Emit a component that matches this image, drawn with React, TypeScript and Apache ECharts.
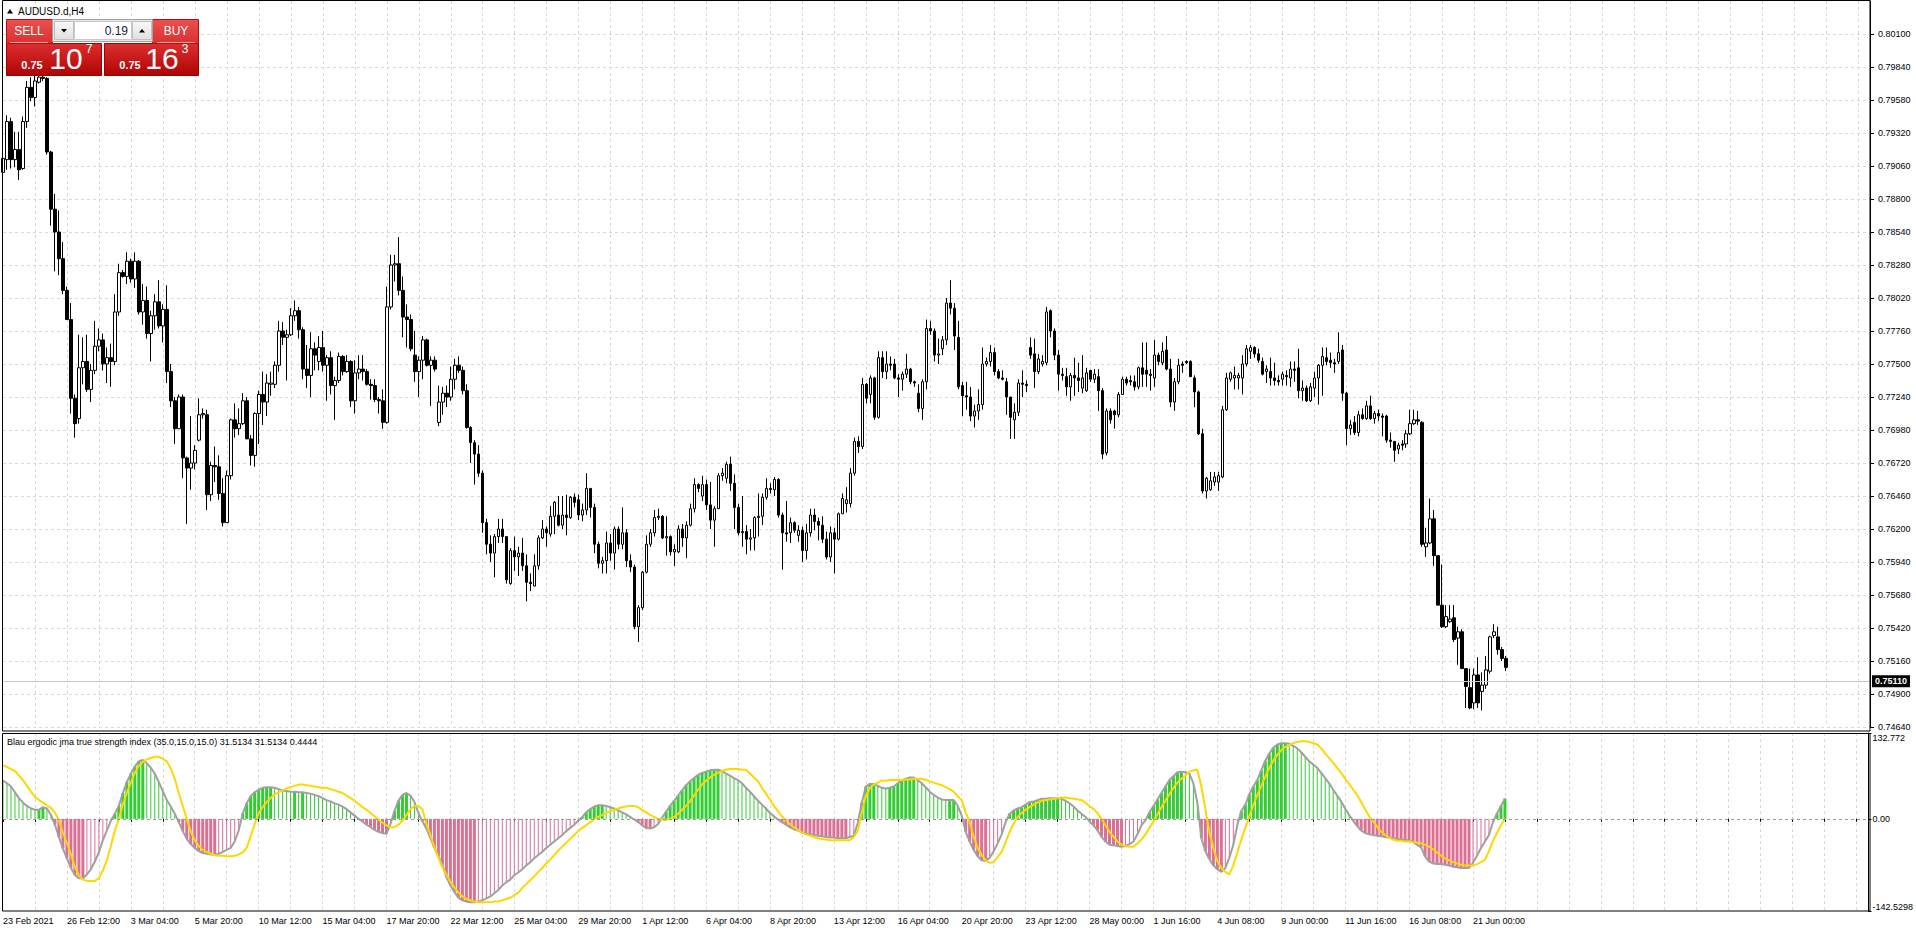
import React, { useEffect, useRef } from 'react';
import * as echarts from 'echarts';

// ---------- data ----------
const symbolTitle = 'AUDUSD.d,H4';
const indicatorName = 'Blau ergodic jma true strength index (35.0,15.0,15.0)';

const timeLabels = [
  '23 Feb 2021', '26 Feb 12:00', '3 Mar 04:00', '5 Mar 20:00', '10 Mar 12:00', '15 Mar 04:00',
  '17 Mar 20:00', '22 Mar 12:00', '25 Mar 04:00', '29 Mar 20:00', '1 Apr 12:00', '6 Apr 04:00',
  '8 Apr 20:00', '13 Apr 12:00', '16 Apr 04:00', '20 Apr 20:00', '23 Apr 12:00', '28 May 00:00',
  '1 Jun 16:00', '4 Jun 08:00', '9 Jun 00:00', '11 Jun 16:00', '16 Jun 08:00', '21 Jun 00:00',
];

const priceTicks = [
  0.7464, 0.7490, 0.7516, 0.7542, 0.7568, 0.7594, 0.7620, 0.7646, 0.7672, 0.7698, 0.7724,
  0.7750, 0.7776, 0.7802, 0.7828, 0.7854, 0.7880, 0.7906, 0.7932, 0.7958, 0.7984, 0.8010,
];
const priceStep = 0.0026;

const indicatorMax = 132.772;
const indicatorMin = -142.5298;
const indicatorTickValues = [132.772, 0, -142.5298];
const indicatorTickLabels = ['132.772', '0.00', '-142.5298'];

// [open, high, low, close]
const candles = [
  [0.7901,0.7918,0.7899,0.7912],[0.7911,0.7946,0.7903,0.7941],[0.7941,0.7944,0.7904,0.7911],[0.7911,0.7933,0.7905,0.7919],[0.7919,0.7933,0.7895,0.7903],
  [0.7904,0.7945,0.7903,0.7941],[0.7941,0.7973,0.7936,0.7968],[0.7968,0.7976,0.7957,0.7960],[0.7960,0.7977,0.7953,0.7973],[0.7972,0.7979,0.7971,0.7976],
  [0.7976,0.7977,0.7973,0.7975],[0.7975,0.7976,0.7915,0.7917],[0.7917,0.7918,0.7859,0.7872],[0.7872,0.7884,0.7823,0.7854],[0.7854,0.7871,0.7820,0.7833],
  [0.7833,0.7846,0.7805,0.7808],[0.7808,0.7811,0.7785,0.7785],[0.7785,0.7798,0.7711,0.7723],[0.7723,0.7726,0.7692,0.7703],[0.7707,0.7773,0.7703,0.7747],
  [0.7747,0.7771,0.7734,0.7752],[0.7752,0.7773,0.7728,0.7730],[0.7730,0.7750,0.7720,0.7745],[0.7745,0.7784,0.7742,0.7764],[0.7764,0.7778,0.7760,0.7769],
  [0.7769,0.7774,0.7745,0.7750],[0.7750,0.7763,0.7735,0.7755],[0.7755,0.7766,0.7732,0.7752],[0.7752,0.7805,0.7749,0.7791],[0.7791,0.7829,0.7788,0.7822],
  [0.7822,0.7824,0.7818,0.7819],[0.7819,0.7838,0.7813,0.7831],[0.7831,0.7833,0.7814,0.7817],[0.7817,0.7838,0.7810,0.7831],[0.7831,0.7832,0.7789,0.7791],
  [0.7791,0.7813,0.7781,0.7800],[0.7800,0.7811,0.7770,0.7774],[0.7774,0.7792,0.7752,0.7788],[0.7788,0.7805,0.7777,0.7799],[0.7799,0.7816,0.7778,0.7780],
  [0.7780,0.7797,0.7767,0.7793],[0.7793,0.7812,0.7735,0.7744],[0.7744,0.7750,0.7716,0.7721],[0.7721,0.7724,0.7687,0.7699],[0.7699,0.7726,0.7699,0.7724],
  [0.7724,0.7726,0.7660,0.7676],[0.7676,0.7677,0.7624,0.7668],[0.7668,0.7709,0.7651,0.7672],[0.7672,0.7686,0.7667,0.7682],[0.7690,0.7723,0.7689,0.7710],
  [0.7710,0.7715,0.7707,0.7711],[0.7710,0.7714,0.7635,0.7647],[0.7647,0.7673,0.7642,0.7670],[0.7670,0.7685,0.7657,0.7669],[0.7669,0.7678,0.7643,0.7648],
  [0.7648,0.7660,0.7622,0.7625],[0.7625,0.7666,0.7625,0.7662],[0.7662,0.7707,0.7659,0.7706],[0.7706,0.7719,0.7692,0.7699],[0.7699,0.7715,0.7694,0.7703],
  [0.7703,0.7727,0.7702,0.7721],[0.7721,0.7724,0.7691,0.7691],[0.7691,0.7694,0.7670,0.7678],[0.7678,0.7712,0.7669,0.7711],[0.7711,0.7729,0.7687,0.7726],
  [0.7726,0.7744,0.7702,0.7720],[0.7720,0.7742,0.7709,0.7735],[0.7734,0.7744,0.7725,0.7735],[0.7734,0.7752,0.7731,0.7749],[0.7749,0.7784,0.7744,0.7776],
  [0.7776,0.7783,0.7765,0.7771],[0.7771,0.7777,0.7737,0.7773],[0.7773,0.7794,0.7772,0.7788],[0.7788,0.7800,0.7784,0.7792],[0.7792,0.7795,0.7770,0.7777],
  [0.7777,0.7779,0.7738,0.7746],[0.7746,0.7765,0.7731,0.7741],[0.7741,0.7775,0.7724,0.7762],[0.7762,0.7767,0.7745,0.7757],[0.7752,0.7772,0.7745,0.7763],
  [0.7763,0.7776,0.7744,0.7749],[0.7749,0.7757,0.7721,0.7755],[0.7755,0.7760,0.7726,0.7733],[0.7733,0.7740,0.7706,0.7737],[0.7737,0.7759,0.7735,0.7756],
  [0.7756,0.7757,0.7741,0.7744],[0.7744,0.7757,0.7743,0.7752],[0.7752,0.7753,0.7716,0.7721],[0.7721,0.7753,0.7711,0.7743],[0.7743,0.7757,0.7738,0.7746],
  [0.7746,0.7757,0.7737,0.7744],[0.7744,0.7746,0.7733,0.7734],[0.7734,0.7738,0.7722,0.7733],[0.7733,0.7738,0.7720,0.7722],[0.7722,0.7724,0.7711,0.7721],
  [0.7721,0.7730,0.7699,0.7704],[0.7704,0.7811,0.7703,0.7795],[0.7795,0.7836,0.7793,0.7828],[0.7828,0.7836,0.7815,0.7829],[0.7829,0.7850,0.7804,0.7808],
  [0.7808,0.7819,0.7771,0.7787],[0.7787,0.7797,0.7763,0.7785],[0.7785,0.7789,0.7760,0.7762],[0.7757,0.7776,0.7736,0.7744],[0.7744,0.7756,0.7724,0.7753],
  [0.7753,0.7772,0.7738,0.7769],[0.7769,0.7770,0.7748,0.7749],[0.7749,0.7756,0.7717,0.7753],[0.7753,0.7756,0.7744,0.7746],[0.7704,0.7733,0.7701,0.7720],
  [0.7720,0.7732,0.7710,0.7727],[0.7727,0.7733,0.7716,0.7724],[0.7724,0.7748,0.7721,0.7738],[0.7738,0.7754,0.7730,0.7749],[0.7749,0.7756,0.7743,0.7745],
  [0.7745,0.7748,0.7726,0.7729],[0.7729,0.7734,0.7699,0.7700],[0.7700,0.7701,0.7672,0.7688],[0.7688,0.7690,0.7655,0.7679],[0.7679,0.7686,0.7661,0.7664],
  [0.7664,0.7666,0.7617,0.7625],[0.7625,0.7628,0.7600,0.7608],[0.7608,0.7615,0.7594,0.7601],[0.7601,0.7616,0.7582,0.7614],[0.7614,0.7628,0.7609,0.7620],
  [0.7620,0.7628,0.7609,0.7614],[0.7614,0.7614,0.7577,0.7580],[0.7577,0.7605,0.7576,0.7603],[0.7603,0.7614,0.7587,0.7598],[0.7598,0.7606,0.7583,0.7601],
  [0.7601,0.7613,0.7587,0.7591],[0.7591,0.7600,0.7563,0.7578],[0.7578,0.7585,0.7571,0.7577],[0.7575,0.7600,0.7575,0.7591],[0.7591,0.7615,0.7588,0.7613],
  [0.7613,0.7627,0.7612,0.7620],[0.7620,0.7622,0.7606,0.7617],[0.7616,0.7638,0.7614,0.7630],[0.7630,0.7642,0.7616,0.7641],[0.7631,0.7646,0.7622,0.7623],
  [0.7623,0.7646,0.7620,0.7631],[0.7631,0.7647,0.7615,0.7629],[0.7629,0.7646,0.7628,0.7645],[0.7645,0.7648,0.7637,0.7641],[0.7643,0.7647,0.7627,0.7631],
  [0.7631,0.7640,0.7626,0.7635],[0.7635,0.7664,0.7631,0.7652],[0.7652,0.7652,0.7629,0.7637],[0.7637,0.7640,0.7601,0.7608],[0.7608,0.7610,0.7589,0.7593],
  [0.7593,0.7598,0.7585,0.7595],[0.7595,0.7618,0.7585,0.7609],[0.7609,0.7616,0.7595,0.7601],[0.7601,0.7622,0.7588,0.7620],[0.7620,0.7622,0.7604,0.7608],
  [0.7608,0.7637,0.7604,0.7617],[0.7617,0.7620,0.7590,0.7595],[0.7595,0.7600,0.7586,0.7590],[0.7590,0.7592,0.7541,0.7543],[0.7543,0.7560,0.7531,0.7558],
  [0.7558,0.7587,0.7556,0.7586],[0.7586,0.7615,0.7585,0.7608],[0.7608,0.7620,0.7606,0.7617],[0.7617,0.7635,0.7614,0.7629],[0.7629,0.7636,0.7627,0.7630],
  [0.7630,0.7631,0.7612,0.7613],[0.7613,0.7630,0.7599,0.7614],[0.7614,0.7615,0.7599,0.7602],[0.7602,0.7608,0.7591,0.7604],[0.7602,0.7623,0.7601,0.7620],
  [0.7620,0.7624,0.7606,0.7613],[0.7613,0.7626,0.7597,0.7623],[0.7623,0.7640,0.7622,0.7636],[0.7636,0.7660,0.7633,0.7655],[0.7655,0.7656,0.7649,0.7652],
  [0.7646,0.7662,0.7642,0.7655],[0.7655,0.7659,0.7635,0.7639],[0.7639,0.7657,0.7620,0.7627],[0.7627,0.7638,0.7606,0.7636],[0.7636,0.7664,0.7636,0.7662],
  [0.7662,0.7668,0.7658,0.7664],[0.7660,0.7673,0.7656,0.7671],[0.7671,0.7677,0.7650,0.7656],[0.7656,0.7663,0.7620,0.7637],[0.7637,0.7640,0.7615,0.7617],
  [0.7617,0.7646,0.7606,0.7618],[0.7618,0.7623,0.7600,0.7612],[0.7612,0.7620,0.7603,0.7613],[0.7613,0.7630,0.7603,0.7629],[0.7629,0.7648,0.7614,0.7630],
  [0.7630,0.7648,0.7623,0.7645],[0.7645,0.7660,0.7643,0.7652],[0.7652,0.7656,0.7648,0.7651],[0.7651,0.7661,0.7646,0.7659],[0.7659,0.7660,0.7629,0.7631],
  [0.7631,0.7633,0.7588,0.7617],[0.7617,0.7642,0.7610,0.7616],[0.7617,0.7629,0.7609,0.7625],[0.7625,0.7626,0.7617,0.7619],[0.7615,0.7623,0.7610,0.7619],
  [0.7619,0.7622,0.7594,0.7603],[0.7603,0.7624,0.7596,0.7617],[0.7617,0.7636,0.7614,0.7631],[0.7631,0.7636,0.7619,0.7626],[0.7626,0.7629,0.7611,0.7623],
  [0.7623,0.7630,0.7609,0.7612],[0.7612,0.7618,0.7596,0.7598],[0.7598,0.7622,0.7594,0.7617],[0.7617,0.7621,0.7585,0.7612],[0.7612,0.7633,0.7611,0.7632],
  [0.7632,0.7648,0.7632,0.7644],[0.7640,0.7653,0.7633,0.7643],[0.7640,0.7668,0.7637,0.7664],[0.7664,0.7692,0.7662,0.7689],[0.7689,0.7693,0.7680,0.7685],
  [0.7685,0.7739,0.7683,0.7734],[0.7734,0.7735,0.7719,0.7723],[0.7726,0.7741,0.7719,0.7739],[0.7739,0.7740,0.7706,0.7708],[0.7708,0.7760,0.7707,0.7755],
  [0.7755,0.7760,0.7739,0.7744],[0.7744,0.7760,0.7738,0.7750],[0.7750,0.7756,0.7745,0.7749],[0.7750,0.7754,0.7738,0.7739],[0.7739,0.7742,0.7724,0.7738],
  [0.7738,0.7744,0.7729,0.7742],[0.7742,0.7758,0.7739,0.7746],[0.7746,0.7747,0.7734,0.7736],[0.7736,0.7737,0.7732,0.7735],[0.7727,0.7734,0.7712,0.7715],
  [0.7715,0.7738,0.7706,0.7736],[0.7736,0.7785,0.7730,0.7778],[0.7778,0.7784,0.7773,0.7776],[0.7776,0.7778,0.7752,0.7757],[0.7757,0.7770,0.7750,0.7758],
  [0.7762,0.7772,0.7757,0.7769],[0.7769,0.7802,0.7765,0.7798],[0.7798,0.7816,0.7789,0.7794],[0.7794,0.7798,0.7761,0.7772],[0.7771,0.7784,0.7730,0.7732],
  [0.7733,0.7736,0.7709,0.7725],[0.7725,0.7736,0.7714,0.7724],[0.7724,0.7732,0.7705,0.7709],[0.7709,0.7718,0.7700,0.7713],[0.7713,0.7730,0.7706,0.7718],
  [0.7718,0.7763,0.7714,0.7750],[0.7750,0.7755,0.7748,0.7752],[0.7752,0.7765,0.7748,0.7759],[0.7759,0.7763,0.7741,0.7744],[0.7744,0.7746,0.7738,0.7739],
  [0.7739,0.7745,0.7737,0.7738],[0.7736,0.7739,0.7710,0.7724],[0.7724,0.7724,0.7691,0.7708],[0.7706,0.7719,0.7691,0.7712],[0.7712,0.7738,0.7709,0.7735],
  [0.7735,0.7745,0.7724,0.7734],[0.7734,0.7737,0.7728,0.7733],[0.7763,0.7771,0.7754,0.7757],[0.7758,0.7770,0.7731,0.7744],[0.7744,0.7758,0.7742,0.7754],
  [0.7750,0.7757,0.7748,0.7752],[0.7751,0.7795,0.7749,0.7791],[0.7792,0.7793,0.7771,0.7776],[0.7776,0.7778,0.7753,0.7757],[0.7757,0.7761,0.7729,0.7742],
  [0.7742,0.7747,0.7737,0.7741],[0.7740,0.7747,0.7725,0.7732],[0.7732,0.7743,0.7721,0.7741],[0.7741,0.7755,0.7725,0.7739],[0.7739,0.7751,0.7728,0.7737],
  [0.7731,0.7757,0.7727,0.7739],[0.7729,0.7747,0.7728,0.7743],[0.7745,0.7745,0.7736,0.7738],[0.7738,0.7746,0.7735,0.7742],[0.7740,0.7746,0.7713,0.7729],
  [0.7729,0.7731,0.7675,0.7679],[0.7680,0.7715,0.7678,0.7713],[0.7713,0.7715,0.7703,0.7706],[0.7713,0.7714,0.7699,0.7710],[0.7710,0.7728,0.7708,0.7726],
  [0.7726,0.7740,0.7726,0.7738],[0.7738,0.7740,0.7733,0.7735],[0.7737,0.7741,0.7733,0.7736],[0.7736,0.7741,0.7729,0.7732],[0.7732,0.7748,0.7730,0.7747],
  [0.7747,0.7767,0.7732,0.7742],[0.7745,0.7767,0.7732,0.7742],[0.7742,0.7746,0.7729,0.7741],[0.7739,0.7769,0.7732,0.7757],[0.7757,0.7759,0.7749,0.7752],
  [0.7751,0.7767,0.7749,0.7760],[0.7761,0.7772,0.7745,0.7746],[0.7746,0.7754,0.7716,0.7720],[0.7720,0.7739,0.7713,0.7736],[0.7736,0.7754,0.7734,0.7749],
  [0.7750,0.7752,0.7743,0.7749],[0.7752,0.7753,0.7750,0.7751],[0.7752,0.7753,0.7740,0.7740],[0.7739,0.7741,0.7716,0.7728],[0.7728,0.7729,0.7694,0.7695],
  [0.7695,0.7699,0.7648,0.7650],[0.7650,0.7661,0.7644,0.7660],[0.7651,0.7665,0.7650,0.7658],[0.7657,0.7665,0.7654,0.7661],[0.7657,0.7665,0.7650,0.7662],
  [0.7661,0.7717,0.7660,0.7714],[0.7714,0.7743,0.7713,0.7739],[0.7738,0.7744,0.7736,0.7743],[0.7739,0.7748,0.7730,0.7741],[0.7739,0.7743,0.7730,0.7741],
  [0.7739,0.7757,0.7726,0.7750],[0.7750,0.7765,0.7748,0.7762],[0.7760,0.7765,0.7754,0.7763],[0.7763,0.7764,0.7755,0.7758],[0.7758,0.7762,0.7751,0.7753],
  [0.7752,0.7755,0.7741,0.7742],[0.7744,0.7749,0.7735,0.7746],[0.7744,0.7755,0.7733,0.7739],[0.7739,0.7751,0.7733,0.7737],[0.7737,0.7741,0.7733,0.7736],
  [0.7738,0.7744,0.7733,0.7742],[0.7741,0.7745,0.7733,0.7740],[0.7739,0.7752,0.7732,0.7746],[0.7746,0.7752,0.7736,0.7745],[0.7747,0.7762,0.7723,0.7729],
  [0.7729,0.7737,0.7721,0.7731],[0.7731,0.7733,0.7720,0.7721],[0.7721,0.7735,0.7720,0.7732],[0.7731,0.7744,0.7724,0.7739],[0.7739,0.7750,0.7718,0.7749],
  [0.7749,0.7763,0.7725,0.7756],[0.7755,0.7763,0.7749,0.7752],[0.7753,0.7759,0.7747,0.7751],[0.7751,0.7754,0.7743,0.7750],[0.7752,0.7775,0.7750,0.7759],
  [0.7761,0.7765,0.7721,0.7727],[0.7727,0.7728,0.7686,0.7699],[0.7699,0.7706,0.7694,0.7702],[0.7704,0.7709,0.7694,0.7696],[0.7696,0.7713,0.7693,0.7710],
  [0.7710,0.7715,0.7706,0.7707],[0.7707,0.7721,0.7706,0.7717],[0.7717,0.7725,0.7706,0.7707],[0.7707,0.7713,0.7703,0.7711],[0.7711,0.7714,0.7705,0.7709],
  [0.7709,0.7711,0.7693,0.7708],[0.7709,0.7710,0.7688,0.7690],[0.7690,0.7696,0.7684,0.7689],[0.7689,0.7689,0.7673,0.7682],[0.7683,0.7688,0.7679,0.7686],
  [0.7687,0.7690,0.7682,0.7686],[0.7687,0.7698,0.7684,0.7695],[0.7695,0.7714,0.7694,0.7703],[0.7703,0.7714,0.7702,0.7706],[0.7706,0.7713,0.7702,0.7705],
  [0.7704,0.7705,0.7606,0.7608],[0.7606,0.7621,0.7598,0.7609],[0.7609,0.7644,0.7608,0.7628],[0.7628,0.7635,0.7591,0.7599],[0.7599,0.7599,0.7560,0.7560],
  [0.7560,0.7592,0.7542,0.7543],[0.7543,0.7560,0.7542,0.7551],[0.7547,0.7560,0.7546,0.7549],[0.7550,0.7560,0.7531,0.7533],[0.7534,0.7543,0.7513,0.7539],
  [0.7539,0.7541,0.7510,0.7510],[0.7510,0.7510,0.7479,0.7496],[0.7495,0.7510,0.7478,0.7479],[0.7483,0.7510,0.7478,0.7505],[0.7505,0.7519,0.7479,0.7483],
  [0.7492,0.7507,0.7477,0.7497],[0.7497,0.7520,0.7494,0.7509],[0.7508,0.7536,0.7506,0.7535],[0.7536,0.7545,0.7534,0.7539],[0.7535,0.7543,0.7521,0.7525],
  [0.7525,0.7527,0.7516,0.7518],[0.7518,0.7520,0.7508,0.7511],
];

// Blau ergodic TSI (gray line / histogram), one value per bar
const tsi = [
  59,55,50,41,32,25,20,16,14,14,
  18,16,6,-9,-28,-46,-61,-76,-87,-92,
  -92,-86,-78,-66,-52,-33,-18,-3,8,20,
  40,57,70,81,89,91,86,79,70,57,
  43,29,19,8,-5,-19,-31,-39,-45,-50,
  -53,-54,-55,-55,-54,-51,-48,-45,-35,-18,
  8,24,35,41,45,48,49,49,48,46,
  44,43,42,42,41,41,40,39,37,35,
  32,29,27,24,22,19,15,10,5,0,
  -4,-9,-13,-17,-20,-22,-23,-8,12,28,
  37,40,36,26,9,-4,-15,-30,-45,-58,
  -71,-90,-103,-113,-122,-126,-128,-129,-129,-128,
  -126,-123,-120,-115,-110,-103,-98,-94,-87,-83,
  -78,-72,-67,-61,-56,-51,-45,-40,-35,-30,
  -25,-19,-14,-9,-3,3,10,15,19,21,
  21,20,18,16,13,10,7,3,-1,-5,
  -10,-14,-15,-13,-8,2,11,20,28,36,
  44,52,58,63,68,71,73,75,76,76,
  74,70,67,63,60,55,48,42,35,28,
  22,16,9,4,-1,-5,-9,-13,-16,-18,
  -21,-23,-24,-25,-26,-27,-28,-29,-29,-30,
  -30,-30,-28,-26,-6,25,50,54,54,51,
  48,47,48,50,55,59,62,64,64,60,
  55,49,42,37,33,30,29,29,29,20,
  5,-20,-35,-48,-58,-64,-65,-60,-50,-38,
  -24,-5,8,13,16,18,22,26,27,29,
  31,31,32,32,32,31,28,24,19,13,
  8,3,-4,-10,-18,-28,-35,-40,-41,-42,
  -43,-42,-39,-35,-24,-10,-2,10,20,30,
  40,50,60,66,72,73,72,70,55,25,
  -30,-50,-62,-72,-78,-82,-76,-60,-40,-10,
  12,22,38,50,60,75,90,101,110,115,
  117,117,116,113,109,103,96,89,84,79,
  71,63,55,45,36,27,16,6,-3,-11,
  -18,-22,-24,-25,-26,-27,-28,-29,-30,-31,
  -32,-33,-33,-36,-40,-44,-58,-66,-69,-70,
  -70,-71,-72,-74,-75,-76,-76,-76,-68,-57,
  -45,-35,-25,-5,8,20,31.5134,
];

// JMA signal line (yellow)
const signal = [
  83,80,77,74,67,60,51,42,34,29,
  25,21,17,10,-2,-22,-37,-55,-74,-88,
  -94,-96,-96,-96,-92,-80,-64,-42,-18,0,
  22,40,56,71,82,88,92,94,96,96,
  93,89,78,62,40,20,0,-20,-33,-42,
  -48,-51,-54,-56,-57,-57,-58,-58,-57,-55,
  -52,-45,-27,-8,9,18,26,32,38,41,
  44,47,49,51,53,53,52,51,50,49,
  48,48,46,44,42,40,36,32,28,23,
  18,14,9,4,-1,-6,-10,-13,-13,-9,
  -3,6,15,20,20,15,-8,-25,-44,-60,
  -75,-86,-97,-106,-114,-120,-124,-126,-128,-129,
  -129,-129,-129,-128,-128,-126,-124,-122,-118,-114,
  -107,-101,-95,-89,-82,-76,-69,-63,-56,-49,
  -43,-37,-31,-25,-19,-14,-10,-5,-1,3,
  6,9,12,14,16,18,19,20,20,18,
  14,10,6,3,0,-1,-2,0,3,8,
  14,20,27,36,45,53,59,64,68,71,
  74,76,77,77,77,76,76,70,64,58,
  48,39,30,20,12,4,-2,-8,-13,-17,
  -21,-24,-26,-28,-30,-31,-32,-33,-33,-33,
  -33,-33,-33,-28,-18,10,35,48,53,56,
  59,59,60,60,60,60,61,61,62,62,
  62,60,58,56,54,52,49,46,42,35,
  29,10,-5,-28,-45,-56,-64,-68,-67,-59,
  -51,-36,-20,-7,3,9,14,18,22,25,
  28,29,30,31,32,33,33,32,31,30,
  29,25,20,15,9,0,-10,-20,-28,-35,
  -40,-42,-43,-43,-38,-32,-24,-14,-4,7,
  18,28,38,48,56,62,67,73,75,76,
  50,15,-20,-45,-65,-76,-82,-86,-72,-52,
  -32,-14,4,21,37,51,65,79,90,99,
  106,111,114,117,119,120,120,119,117,115,
  109,101,94,87,79,71,62,54,45,37,
  26,15,4,-4,-12,-20,-25,-29,-32,-34,
  -34,-35,-35,-36,-37,-38,-40,-43,-47,-52,
  -57,-61,-64,-67,-69,-71,-72,-72,-72,-70,
  -67,-63,-50,-34,-22,-10,0.4444,
];

// one-click trading panel texts
const lotSize = '0.19';
const sellBig = { head: '0.75', big: '10', tail: '7' };
const buyBig = { head: '0.75', big: '16', tail: '3' };

// ---------- styling constants ----------
const SLOTS = 468;
const LABEL_EVERY = 16;
const GRID_EVERY = 8;
const FONT = 'Tahoma, "Liberation Sans", Arial, sans-serif';
const GREEN = '#32CD32';
const PINK = '#DB7093';
const GRID_COLOR = '#d9d9d9';

function buildOption() {
  const cats = Array.from({ length: SLOTS }, (_, i) => String(i));
  const candleData = candles.map(([o, h, l, c]) => [o, c, l, h]);
  const n = Math.min(tsi.length, signal.length);
  const tsiVals = tsi.slice(0, n);
  const sigVals = signal.slice(0, n);
  const thick = tsiVals.map((v, i) => {
    if (i === 0) return '-';
    const prev = tsiVals[i - 1];
    const growing = v >= 0 ? v >= prev : v <= prev;
    return growing ? v : '-';
  });
  const thin = tsiVals.map((v, i) => (thick[i] === '-' ? v : '-'));
  const lastClose = candles[candles.length - 1][3];
  const lastTsi = tsiVals[n - 1];
  const lastSig = sigVals[n - 1];
  const priceMin = priceTicks[0];
  const priceMax = +(priceTicks[priceTicks.length - 1] + priceStep).toFixed(4);

  const splitIv = (idx: number) => idx > 0 && idx % GRID_EVERY === 0;
  const dashed = { color: GRID_COLOR, type: [3, 3] as any, width: 1 };
  const barColor = (p: any) => (p.value >= 0 ? GREEN : PINK);

  const mainLeft = 3;
  const mainWidth = 1867;

  const indYAxis = (k: number, va: string, showLine: boolean) => ({
    type: 'value',
    gridIndex: 1,
    position: 'right',
    min: indicatorMin,
    max: indicatorMax,
    axisLine: { show: showLine, lineStyle: { color: '#000', width: 1 } },
    axisTick: { show: true, length: 3, customValues: [indicatorTickValues[k]], lineStyle: { color: '#000' } },
    axisLabel: {
      show: true,
      customValues: [indicatorTickValues[k]],
      formatter: () => indicatorTickLabels[k],
      verticalAlign: va,
      margin: 4,
      fontSize: 9,
      fontFamily: FONT,
      color: '#000',
    },
    splitLine: { show: false },
  });

  const txt = (x: number, y: number, text: string, size: number, extra: any = {}) => ({
    type: 'text',
    x,
    y,
    silent: true,
    z: 110,
    style: {
      text,
      fill: '#fff',
      fontSize: size,
      fontFamily: FONT,
      align: 'center',
      verticalAlign: 'middle',
      ...extra,
    },
  });
  const grad = (a: string, b: string) =>
    new echarts.graphic.LinearGradient(0, 0, 0, 1, [
      { offset: 0, color: a },
      { offset: 1, color: b },
    ]);
  const rect = (x: number, y: number, w: number, h: number, fill: any, stroke: string) => ({
    type: 'rect',
    silent: true,
    z: 100,
    shape: { x, y, width: w, height: h },
    style: { fill, stroke, lineWidth: 1 },
  });

  return {
    animation: false,
    backgroundColor: '#ffffff',
    textStyle: { fontFamily: FONT },
    grid: [
      { left: mainLeft, width: mainWidth, top: 1, height: 726 },
      { left: mainLeft, width: mainWidth, top: 733, height: 178 },
    ],
    xAxis: [
      {
        type: 'category',
        gridIndex: 0,
        data: cats,
        boundaryGap: false,
        axisLine: { show: false },
        axisTick: { show: false },
        axisLabel: { show: false },
        splitLine: { show: true, interval: splitIv, lineStyle: dashed },
      },
      {
        type: 'category',
        gridIndex: 1,
        data: cats,
        boundaryGap: false,
        axisLine: { show: false },
        axisTick: {
          show: true,
          interval: (idx: number) => idx % GRID_EVERY === 0,
          length: 3,
          lineStyle: { color: '#000' },
        },
        axisLabel: {
          show: true,
          interval: (idx: number) => idx % LABEL_EVERY === 0 && idx / LABEL_EVERY < timeLabels.length,
          formatter: (_v: string, idx: number) => timeLabels[idx / LABEL_EVERY] ?? '',
          align: 'left',
          margin: 5,
          fontSize: 9,
          fontFamily: FONT,
          color: '#000',
        },
        splitLine: { show: true, interval: splitIv, lineStyle: dashed },
      },
      {
        type: 'category',
        gridIndex: 1,
        data: cats,
        boundaryGap: false,
        show: false,
      },
    ],
    yAxis: [
      {
        type: 'value',
        gridIndex: 0,
        position: 'right',
        min: priceMin,
        max: priceMax,
        interval: priceStep,
        axisLine: { show: true, lineStyle: { color: '#000', width: 1 } },
        axisTick: { show: true, length: 4, customValues: priceTicks, lineStyle: { color: '#000' } },
        axisLabel: {
          show: true,
          customValues: priceTicks,
          formatter: (v: number) => v.toFixed(5),
          margin: 8,
          fontSize: 9,
          fontFamily: FONT,
          color: '#000',
        },
        splitLine: { show: true, lineStyle: dashed },
      },
      indYAxis(0, 'top', true),
      indYAxis(1, 'middle', false),
      indYAxis(2, 'bottom', false),
    ],
    series: [
      {
        type: 'candlestick',
        xAxisIndex: 0,
        yAxisIndex: 0,
        data: candleData,
        barWidth: 3,
        silent: true,
        itemStyle: {
          color: '#ffffff',
          color0: '#000000',
          borderColor: '#000000',
          borderColor0: '#000000',
          borderWidth: 1,
        },
        markLine: {
          silent: true,
          symbol: 'none',
          animation: false,
          data: [{ yAxis: lastClose }],
          lineStyle: { color: '#c8c8c8', type: 'solid', width: 1 },
          label: {
            show: true,
            position: 'end',
            distance: 2,
            formatter: lastClose.toFixed(5),
            color: '#fff',
            backgroundColor: '#000',
            padding: [2, 3, 1, 3],
            fontSize: 9,
            fontWeight: 'bold',
            fontFamily: FONT,
          },
        },
      },
      {
        type: 'bar',
        name: 'hist-grow',
        xAxisIndex: 1,
        yAxisIndex: 1,
        data: thick,
        barWidth: 3,
        silent: true,
        itemStyle: { color: barColor },
      },
      {
        type: 'bar',
        name: 'hist-fall',
        xAxisIndex: 2,
        yAxisIndex: 1,
        data: thin,
        barWidth: 1,
        silent: true,
        itemStyle: { color: barColor },
        markLine: {
          silent: true,
          symbol: 'none',
          animation: false,
          data: [{ yAxis: 0 }],
          lineStyle: { color: '#9a9a9a', type: [3, 3], width: 1 },
          label: { show: false },
        },
      },
      {
        type: 'line',
        name: 'tsi',
        xAxisIndex: 1,
        yAxisIndex: 1,
        data: tsiVals,
        symbol: 'none',
        silent: true,
        lineStyle: { color: '#a0a0a0', width: 2 },
        z: 3,
      },
      {
        type: 'line',
        name: 'signal',
        xAxisIndex: 1,
        yAxisIndex: 1,
        data: sigVals,
        symbol: 'none',
        silent: true,
        lineStyle: { color: '#FFD700', width: 2 },
        z: 4,
      },
    ],
    graphic: [
      // panel frames
      {
        type: 'rect', silent: true, z: 50,
        shape: { x: 2.5, y: 0.5, width: 1867.5, height: 730.5 },
        style: { fill: 'none', stroke: '#000', lineWidth: 1 },
      },
      {
        type: 'rect', silent: true, z: 50,
        shape: { x: 2.5, y: 733.5, width: 1867.5, height: 177.5 },
        style: { fill: 'none', stroke: '#000', lineWidth: 1 },
      },
      // symbol title
      {
        type: 'polygon', silent: true, z: 60,
        shape: { points: [[7, 13.5], [13, 13.5], [10, 9]] },
        style: { fill: '#000' },
      },
      {
        type: 'text', silent: true, z: 60, x: 18, y: 11,
        style: { text: symbolTitle, fill: '#000', fontSize: 10, fontFamily: FONT, verticalAlign: 'middle' },
      },
      // indicator title
      {
        type: 'text', silent: true, z: 60, x: 7, y: 742,
        style: {
          text: `${indicatorName} ${lastTsi.toFixed(4)} ${lastTsi.toFixed(4)} ${lastSig.toFixed(4)}`,
          fill: '#000', fontSize: 9, fontFamily: FONT, verticalAlign: 'middle',
        },
      },
      // one click trading panel
      rect(6.5, 43.5, 95, 32, grad('#DC2E2E', '#B00404'), '#9c0000'),
      rect(104.5, 43.5, 94, 32, grad('#DC2E2E', '#B00404'), '#9c0000'),
      rect(6.5, 19.5, 46, 24, grad('#EC5050', '#D93030'), '#b01010'),
      rect(152.5, 19.5, 46, 24, grad('#EC5050', '#D93030'), '#b01010'),
      rect(52.5, 19.5, 100, 22, '#e6e6e6', '#a0a0a0'),
      rect(74.5, 21.5, 57, 18, '#ffffff', '#c8c8c8'),
      rect(54.5, 21.5, 19, 18, grad('#f8f8f8', '#e0e0e0'), '#c0c0c0'),
      rect(132.5, 21.5, 19, 18, grad('#f8f8f8', '#e0e0e0'), '#c0c0c0'),
      {
        type: 'polygon', silent: true, z: 105,
        shape: { points: [[61, 29], [67, 29], [64, 32.5]] },
        style: { fill: '#000' },
      },
      {
        type: 'polygon', silent: true, z: 105,
        shape: { points: [[139, 32.5], [145, 32.5], [142, 29]] },
        style: { fill: '#000' },
      },
      {
        type: 'line', silent: true, z: 105,
        shape: { x1: 10, y1: 42.5, x2: 48, y2: 42.5 },
        style: { stroke: '#f4a0a0', lineWidth: 1 },
      },
      {
        type: 'line', silent: true, z: 105,
        shape: { x1: 157, y1: 42.5, x2: 195, y2: 42.5 },
        style: { stroke: '#f4a0a0', lineWidth: 1 },
      },
      txt(29, 31, 'SELL', 12),
      txt(176, 31, 'BUY', 12),
      txt(128, 31, lotSize, 12, { fill: '#20204a', align: 'right' }),
      txt(32, 65, sellBig.head, 11, { fontWeight: 'bold' }),
      txt(66, 58, sellBig.big, 30),
      txt(89, 49, sellBig.tail, 12),
      txt(130, 65, buyBig.head, 11, { fontWeight: 'bold' }),
      txt(162, 58, buyBig.big, 30),
      txt(185, 49, buyBig.tail, 12),
    ],
  };
}

export default function App() {
  const ref = useRef<HTMLDivElement>(null);
  useEffect(() => {
    document.body.style.margin = '0';
    if (!ref.current) return;
    const chart = echarts.init(ref.current, null, { renderer: 'svg', width: 1916, height: 933 });
    chart.setOption(buildOption() as any);
    return () => chart.dispose();
  }, []);
  return (
    <div
      ref={ref}
      style={{ position: 'absolute', left: 0, top: 0, width: 1916, height: 933, background: '#fff' }}
    />
  );
}
